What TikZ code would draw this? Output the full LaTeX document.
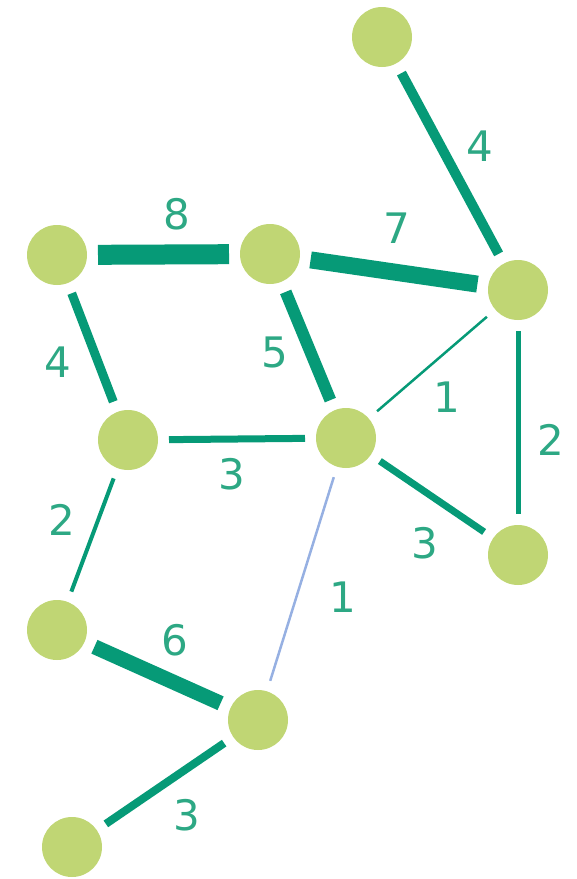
\documentclass[tikz,border=0pt]{standalone}
\usepackage{fontspec}
\setmainfont{DejaVu Sans}
\definecolor{nodegreen}{RGB}{192,214,116}
\definecolor{edgeteal}{RGB}{6,154,119}
\definecolor{labteal}{RGB}{45,168,132}
\definecolor{edgeblue}{RGB}{150,176,226}
\tikzset{
  vert/.style={circle,fill=nodegreen,minimum size=60pt,inner sep=0pt,outer sep=0pt},
  wedge/.style={draw=edgeteal,line width=#1,shorten <=11pt,shorten >=11pt},
  wlab/.style={text=labteal,font=\fontsize{42}{42}\selectfont,inner sep=0pt}
}
\begin{document}
\begin{tikzpicture}[x=1pt,y=-1pt]
\useasboundingbox (0,0) rectangle (577,879);
\node[vert] (A) at (382,37) {};
\node[vert] (B) at (518,290) {};
\node[vert] (C) at (57,255) {};
\node[vert] (D) at (270,254) {};
\node[vert] (E) at (128,440) {};
\node[vert] (F) at (346,438) {};
\node[vert] (G) at (518,555) {};
\node[vert] (H) at (57,630) {};
\node[vert] (I) at (258,720) {};
\node[vert] (J) at (72,847) {};
\draw[wedge=10pt] (A) -- (B);
\draw[wedge=20pt] (C) -- (D);
\draw[wedge=17pt] (D) -- (B);
\draw[wedge=9pt] (C) -- (E);
\draw[wedge=12pt] (D) -- (F);
\draw[wedge=7pt] (E) -- (F);
\draw[wedge=2.5pt] (F) -- (B);
\draw[wedge=5pt] (B) -- (G);
\draw[wedge=7pt] (F) -- (G);
\draw[wedge=4pt] (E) -- (H);
\draw[wedge=15pt] (H) -- (I);
\draw[wedge=2.5pt,draw=edgeblue] (F) -- (I);
\draw[wedge=8pt] (I) -- (J);
\node[wlab] (lAB) at (480,146) {4};
\node[wlab] (lCD) at (177,214) {8};
\node[wlab] (lDB) at (397,228) {7};
\node[wlab] (lCE) at (58,362) {4};
\node[wlab] (lDF) at (275,352) {5};
\node[wlab] (lFB) at (447,397) {1};
\node[wlab] (lBG) at (551,440) {2};
\node[wlab] (lEF) at (232,474) {3};
\node[wlab] (lEH) at (62,520) {2};
\node[wlab] (lFG) at (425,543) {3};
\node[wlab] (lFI) at (343,597) {1};
\node[wlab] (lHI) at (175,640) {6};
\node[wlab] (lIJ) at (187,815) {3};
\end{tikzpicture}
\end{document}
